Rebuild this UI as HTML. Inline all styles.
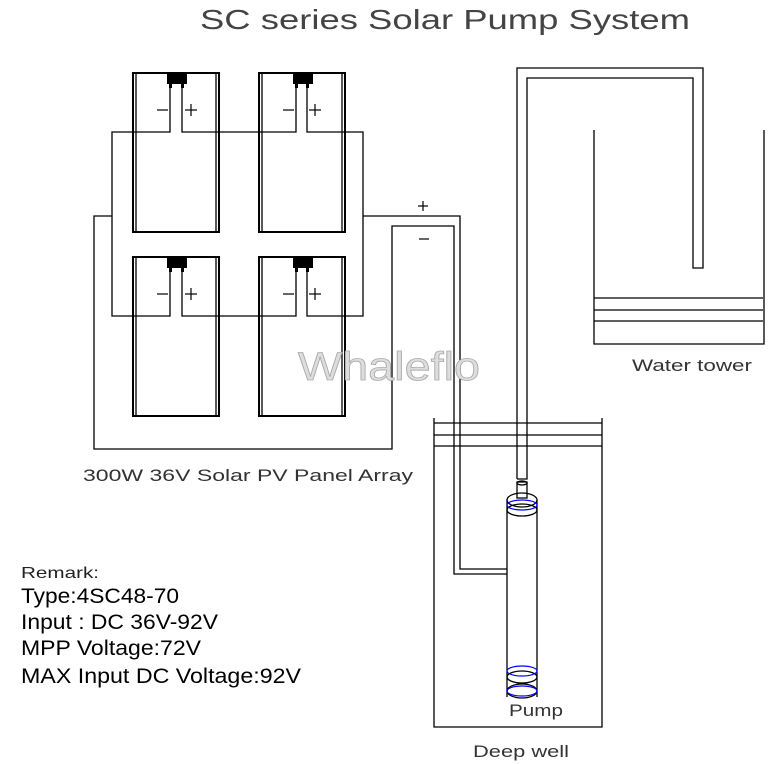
<!DOCTYPE html>
<html><head><style>body{margin:0;background:#fff}svg{display:block}</style></head>
<body>
<svg width="772" height="764" viewBox="0 0 772 764" xmlns="http://www.w3.org/2000/svg" font-family="Liberation Sans, sans-serif">
<g fill="none" stroke="#000" stroke-width="1.3">
<rect x="133" y="73" width="86" height="159" stroke-width="2"/>
<line x1="136" y1="74" x2="136" y2="231"/><line x1="216" y1="74" x2="216" y2="231"/>
<rect x="259" y="73" width="86" height="159" stroke-width="2"/>
<line x1="262" y1="74" x2="262" y2="231"/><line x1="342" y1="74" x2="342" y2="231"/>
<rect x="133" y="257" width="86" height="159" stroke-width="2"/>
<line x1="136" y1="258" x2="136" y2="415"/><line x1="216" y1="258" x2="216" y2="415"/>
<rect x="259" y="257" width="86" height="159" stroke-width="2"/>
<line x1="262" y1="258" x2="262" y2="415"/><line x1="342" y1="258" x2="342" y2="415"/>
<polyline points="170,87 170,132 112,132 112,316 170,316 170,272"/>
<polyline points="182,87 182,132 296,132 296,87"/>
<polyline points="307,87 307,132 363,132 363,316 307,316 307,272"/>
<polyline points="182,272 182,316 296,316 296,272"/>
<polyline points="112,216 94,216 94,449 392,449 392,226 454,226 454,574 507,574"/>
<polyline points="363,216 460,216 460,569 507,569"/>
<polyline points="517,479 517,68 703,68 703,268 693,268 693,78 527,78 527,479 517,479"/>
<polyline points="594,130 594,344 764,344 764,130"/>
<line x1="594" y1="298" x2="763" y2="298"/><line x1="594" y1="310" x2="763" y2="310"/><line x1="594" y1="321" x2="763" y2="321"/>
<polyline points="434,418 434,727 602,727 602,418"/>
<line x1="434" y1="423" x2="602" y2="423"/><line x1="434" y1="435" x2="602" y2="435"/><line x1="434" y1="446" x2="602" y2="446"/>
<rect x="517" y="482" width="10" height="16"/>
<ellipse cx="522" cy="483" rx="5" ry="2"/>
<line x1="507" y1="500" x2="507" y2="697"/><line x1="537" y1="500" x2="537" y2="697"/>
<ellipse cx="522" cy="500" rx="15" ry="7"/>
<ellipse cx="522" cy="510" rx="15" ry="6"/>
<ellipse cx="522" cy="677" rx="15" ry="6"/>
<ellipse cx="522" cy="691" rx="15" ry="7"/>
</g>
<g fill="none" stroke="#00f" stroke-width="1.2">
<ellipse cx="522" cy="505" rx="15" ry="5"/>
<ellipse cx="522" cy="671" rx="15" ry="5"/>
<ellipse cx="522" cy="691" rx="15" ry="5"/>
</g>
<g fill="#000">
<rect x="167" y="73" width="20" height="11"/><rect x="293" y="73" width="20" height="11"/>
<rect x="167" y="257" width="20" height="11"/><rect x="293" y="257" width="20" height="11"/>
<rect x="169" y="84" width="3" height="4"/><rect x="181" y="84" width="3" height="4"/>
<rect x="295" y="84" width="3" height="4"/><rect x="306" y="84" width="3" height="4"/>
<rect x="169" y="268" width="3" height="4"/><rect x="181" y="268" width="3" height="4"/>
<rect x="295" y="268" width="3" height="4"/><rect x="306" y="268" width="3" height="4"/>
</g>
<g stroke="#000" stroke-width="1.2">
<line x1="157" y1="110" x2="168" y2="110"/><line x1="185" y1="110" x2="197" y2="110"/><line x1="191" y1="104" x2="191" y2="116"/>
<line x1="283" y1="110" x2="294" y2="110"/><line x1="309" y1="110" x2="321" y2="110"/><line x1="315" y1="104" x2="315" y2="116"/>
<line x1="157" y1="294" x2="168" y2="294"/><line x1="185" y1="294" x2="197" y2="294"/><line x1="191" y1="288" x2="191" y2="300"/>
<line x1="283" y1="294" x2="294" y2="294"/><line x1="309" y1="294" x2="321" y2="294"/><line x1="315" y1="288" x2="315" y2="300"/>
<line x1="418" y1="206" x2="428" y2="206"/><line x1="423" y1="201" x2="423" y2="211"/>
<line x1="419" y1="239" x2="429" y2="239"/>
</g>
<text x="200" y="29" font-size="28" fill="#444" textLength="490" lengthAdjust="spacingAndGlyphs">SC series Solar Pump System</text>
<text x="298" y="380" font-size="40" fill="#ddd" stroke="#aaa" stroke-width="0.8" textLength="182" lengthAdjust="spacingAndGlyphs">Whaleflo</text>
<text x="83" y="481" font-size="17" fill="#333" textLength="330" lengthAdjust="spacingAndGlyphs">300W 36V Solar PV Panel Array</text>
<text x="632" y="371" font-size="17" fill="#333" textLength="120" lengthAdjust="spacingAndGlyphs">Water tower</text>
<text x="509" y="716" font-size="17" fill="#333" textLength="54" lengthAdjust="spacingAndGlyphs">Pump</text>
<text x="473" y="757" font-size="17" fill="#333" textLength="96" lengthAdjust="spacingAndGlyphs">Deep well</text>
<text x="21" y="578" font-size="16" fill="#222" textLength="78" lengthAdjust="spacingAndGlyphs">Remark:</text>
<text x="21" y="603" font-size="21" fill="#000" textLength="158" lengthAdjust="spacingAndGlyphs">Type:4SC48-70</text>
<text x="21" y="629" font-size="21" fill="#000" textLength="197" lengthAdjust="spacingAndGlyphs">Input : DC 36V-92V</text>
<text x="21" y="655" font-size="21" fill="#000" textLength="180" lengthAdjust="spacingAndGlyphs">MPP Voltage:72V</text>
<text x="21" y="683" font-size="21" fill="#000" textLength="280" lengthAdjust="spacingAndGlyphs">MAX Input DC Voltage:92V</text>
</svg>
</body></html>
